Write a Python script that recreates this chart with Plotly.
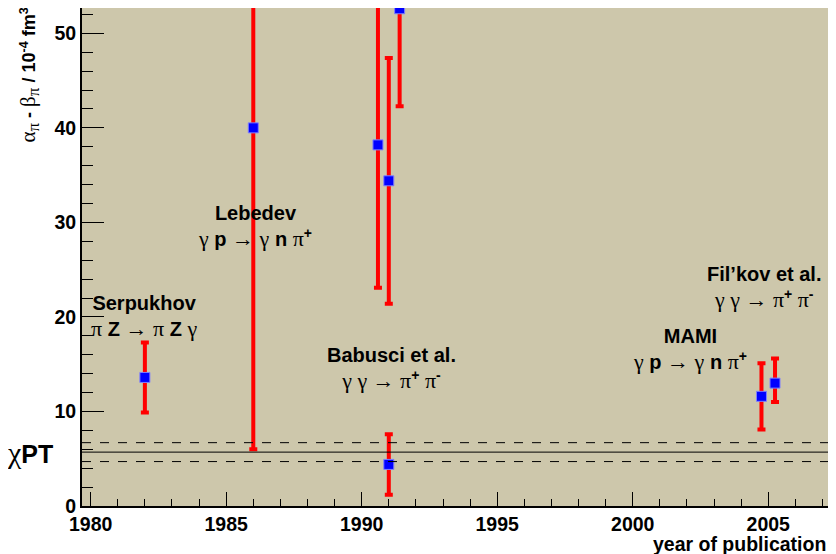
import plotly.graph_objects as go

# ---- data ----
years = [1982.0, 1986.0, 1990.6, 1991.0, 1991.4, 1991.0, 2004.75, 2005.25]
values = [13.6, 40.0, 38.2, 34.4, 52.6, 4.4, 11.6, 13.0]
err_plus = [3.7, 34.0, 15.1, 13.0, 23.4, 3.2, 3.5, 2.6]
err_minus = [3.7, 34.0, 15.1, 13.0, 10.3, 3.2, 3.5, 2.0]

chpt_value = 5.7
chpt_err = 1.0

x_range = [1979.68, 2007.5]
y_range = [0, 52.68]

def g(s, size=None):
    st = "font-family:Liberation Serif;font-weight:normal"
    if size:
        st += f";font-size:{size}px"
    return f"<span style=\"{st}\">{s}</span>"

labels = [
    (1981.95, 20.0, "<b>Serpukhov</b><br>" + g("π", 22) + " <b>Z</b> " + g("→ π", 22) + " <b>Z</b> " + g("γ", 22)),
    (1986.05, 29.6, "<b>Lebedev</b><br>" + g("γ", 22) + " <b>p</b> " + g("→ γ", 22) + " <b>n</b> " + g("π", 22) + "<sup><b>+</b></sup>"),
    (1991.1, 14.5, "<b>Babusci et al.</b><br>" + g("γ γ → π", 22) + "<sup><b>+</b></sup> " + g("π", 22) + "<sup><b>-</b></sup>"),
    (2002.1, 16.6, "<b>MAMI</b><br>" + g("γ", 22) + " <b>p</b> " + g("→ γ", 22) + " <b>n</b> " + g("π", 22) + "<sup><b>+</b></sup>"),
    (2004.85, 23.1, "<b>Fil’kov et al.</b><br>" + g("γ γ → π", 22) + "<sup><b>+</b></sup> " + g("π", 22) + "<sup><b>-</b></sup>"),
]

FONT = "Liberation Sans, Arial, sans-serif"

fig = go.Figure()
# error bars (clipped)
fig.add_trace(go.Scatter(
    x=years, y=values, mode="markers",
    marker=dict(size=1, color="rgba(0,0,0,0)"),
    error_y=dict(type="data", symmetric=False, array=err_plus, arrayminus=err_minus,
                 color="#ff0000", thickness=4, width=4),
    cliponaxis=True, showlegend=False, hoverinfo="skip"))
# markers (not clipped)
fig.add_trace(go.Scatter(
    x=years, y=values, mode="markers",
    marker=dict(symbol="square", size=10, color="#0000ff",
                line=dict(color="#7f7fff", width=1)),
    cliponaxis=False, showlegend=False))

# chiPT band
fig.add_shape(type="line", xref="paper", x0=0, x1=1, yref="y", y0=chpt_value, y1=chpt_value,
              line=dict(color="black", width=1))
for yy in (chpt_value - chpt_err, chpt_value + chpt_err):
    fig.add_shape(type="line", xref="paper", x0=0, x1=1, yref="y", y0=yy, y1=yy,
                  line=dict(color="black", width=1, dash="dash"))

for (xx, yy, txt) in labels:
    fig.add_annotation(x=xx, y=yy, xref="x", yref="y", text=txt, showarrow=False,
                       font=dict(family=FONT, size=20, color="black"), align="center")

fig.add_annotation(xref="paper", yref="y", x=-0.036, y=chpt_value, xanchor="right",
                   text=g("χ", 30) + "<b>PT</b>", showarrow=False,
                   font=dict(family=FONT, size=25, color="black"))

fig.add_annotation(xref="paper", yref="paper", x=-0.069, y=1.006, xanchor="center", yanchor="top",
                   textangle=-90,
                   text=g("α", 21) + "<sub>" + g("π", 17) + "</sub><b> - </b>" + g("β", 21) + "<sub>" + g("π", 17) + "</sub><b> / 10<sup>-4</sup> fm<sup>3</sup></b>",
                   showarrow=False, font=dict(family=FONT, size=18, color="black"))

fig.add_annotation(xref="paper", yref="paper", x=0.990, y=-0.076, xanchor="right", yanchor="middle",
                   text="<b>year of publication</b>", showarrow=False,
                   font=dict(family=FONT, size=19.5, color="black"))

# page body has an 8px margin: figure placed at (8,8), sized to fill the 836x554 window
fig.update_layout(
    width=828, height=546,
    margin=dict(l=74, r=0, t=0, b=48, autoexpand=False),
    paper_bgcolor="white", plot_bgcolor="#cdc7ab",
    showlegend=False,
)
fig.update_xaxes(range=x_range, showgrid=False, zeroline=False, automargin=False,
                 showline=True, linecolor="black", linewidth=2, mirror=True,
                 ticks="inside", ticklen=14, tickwidth=1, tickcolor="black",
                 tick0=1980, dtick=5,
                 minor=dict(ticks="inside", ticklen=7, dtick=1, tick0=1980, tickcolor="black", showgrid=False),
                 tickfont=dict(family=FONT, size=19.5, color="black", weight="bold"),
                 ticklabelstandoff=0)
fig.update_yaxes(range=y_range, showgrid=False, zeroline=False, automargin=False,
                 showline=True, linecolor="black", linewidth=2, mirror=True,
                 ticks="inside", ticklen=22, tickwidth=1, tickcolor="black",
                 tick0=0, dtick=10,
                 minor=dict(ticks="inside", ticklen=11, dtick=2, tick0=0, tickcolor="black", showgrid=False),
                 tickfont=dict(family=FONT, size=19.5, color="black", weight="bold"))

fig.write_html("out.html")
